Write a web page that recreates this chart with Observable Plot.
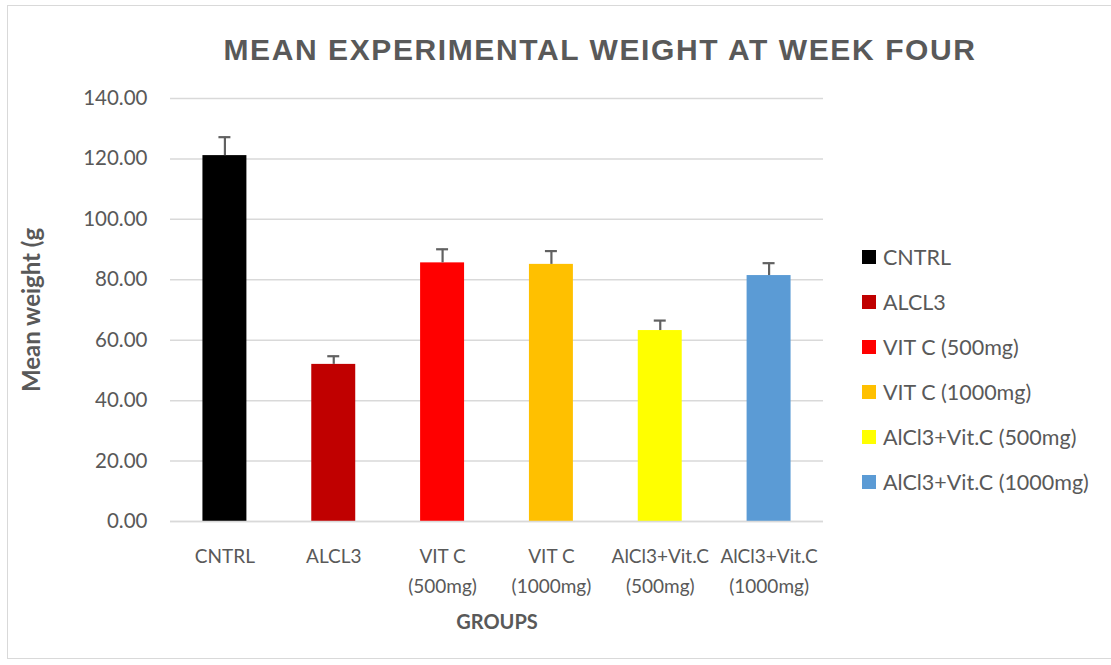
<!DOCTYPE html>
<html>
<head>
<meta charset="utf-8">
<script src="https://cdn.jsdelivr.net/npm/d3@7"></script>
<script src="https://cdn.jsdelivr.net/npm/@observablehq/plot@0.6"></script>
<style>
  html, body { margin: 0; padding: 0; background: #fff; }
  #wrap { position: relative; width: 1111px; height: 665px; overflow: hidden; font-family: Lato, "Open Sans", sans-serif; }
  #frame { position: absolute; left: 7px; top: 5px; width: 1120px; height: 654px; border: 1.5px solid #d9d9d9; box-sizing: border-box; }
  #title { position: absolute; left: 0; width: 1200px; top: 32px; text-align: center; font-family: "Liberation Sans", Arial, sans-serif; font-weight: bold; font-size: 30px; line-height: 36px; color: #595959; letter-spacing: 1.6px; }
  #legend { position: absolute; left: 862px; top: 234px; font-family: Lato, "Open Sans", sans-serif; font-size: 21.5px; color: #595959; }
  #legend .row { display: flex; align-items: center; height: 45px; }
  #legend .sw { width: 14px; height: 14px; margin-right: 7px; }
  #plot { position: absolute; left: 0; top: 0; }
</style>
</head>
<body>
<div id="wrap">
  <div id="frame"></div>
  <div id="plot"></div>
  <div id="title">MEAN EXPERIMENTAL WEIGHT AT WEEK FOUR</div>
  <div id="legend"></div>
</div>
<script>
const groups = ["CNTRL", "ALCL3", "VIT C (500mg)", "VIT C (1000mg)", "AlCl3+Vit.C (500mg)", "AlCl3+Vit.C (1000mg)"];
const tickLabels = ["CNTRL", "ALCL3", "VIT C\n(500mg)", "VIT C\n(1000mg)", "AlCl3+Vit.C\n(500mg)", "AlCl3+Vit.C\n(1000mg)"];
const means = [121.1, 52.0, 85.6, 85.1, 63.2, 81.4];
const errors = [6.1, 2.7, 4.5, 4.4, 3.3, 4.1];
const colors = ["#000000", "#c00000", "#ff0000", "#ffc000", "#ffff00", "#5b9bd5"];
const yTicks = [0, 20, 40, 60, 80, 100, 120, 140];

const data = groups.map((g, i) => ({group: g, mean: means[i], err: errors[i], top: means[i] + errors[i], label: tickLabels[i]}));

const chart = Plot.plot({
  width: 1111,
  height: 665,
  marginLeft: 170,
  marginRight: 288,
  marginTop: 98,
  marginBottom: 144,
  style: {fontFamily: "Lato, 'Open Sans', sans-serif", color: "#595959", background: "transparent"},
  x: {domain: groups, paddingInner: 0.596, paddingOuter: 0.298, round: false, label: null},
  y: {domain: [0, 140], label: null},
  color: {domain: groups, range: colors},
  marks: [
    Plot.gridY(yTicks, {stroke: "#d9d9d9", strokeOpacity: 1, strokeWidth: 1.5}),
    Plot.axisY(yTicks, {tickSize: 0, tickPadding: 23, tickFormat: d => d.toFixed(2), fill: "#595959", fontSize: 20.5}),
    Plot.axisX({tickSize: 0, tickPadding: 21, tickFormat: d => tickLabels[groups.indexOf(d)], fill: "#595959", fontSize: 19, lineHeight: 1.55, textAnchor: "middle"}),
    Plot.barY(data, {x: "group", y: "mean", fill: "group"}),
    Plot.ruleY([0], {stroke: "#d9d9d9", strokeWidth: 1.5}),
    Plot.ruleX(data, {x: "group", y1: "mean", y2: "top", stroke: "#616161", strokeWidth: 2.2}),
    Plot.tickY(data, {x: "group", y: "top", stroke: "#616161", strokeWidth: 2.2, insetLeft: 16, insetRight: 16}),
    Plot.text(["GROUPS"], {frameAnchor: "bottom", dy: 107, fontWeight: "bold", fontSize: 20, fill: "#595959"}),
    Plot.text(["Mean weight (g"], {frameAnchor: "left", textAnchor: "middle", dx: -138, rotate: -90, fontWeight: "bold", fontSize: 24, fill: "#595959"})
  ]
});
document.getElementById("plot").appendChild(chart);

const leg = document.getElementById("legend");
groups.forEach((g, i) => {
  const row = document.createElement("div");
  row.className = "row";
  const sw = document.createElement("div");
  sw.className = "sw";
  sw.style.background = colors[i];
  const t = document.createElement("span");
  t.textContent = g;
  row.appendChild(sw);
  row.appendChild(t);
  leg.appendChild(row);
});
</script>
</body>
</html>
